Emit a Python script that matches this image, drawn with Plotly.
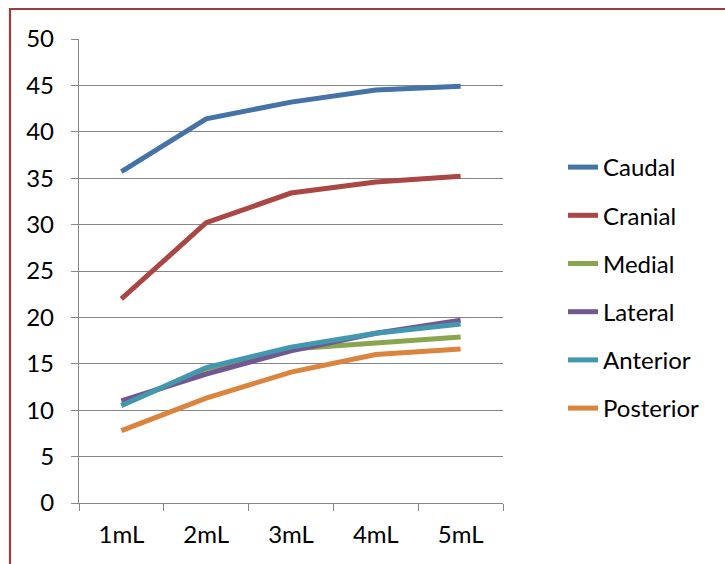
import plotly.graph_objects as go

categories = ["1mL", "2mL", "3mL", "4mL", "5mL"]
caudal = [35.7, 41.4, 43.2, 44.5, 44.9]
cranial = [22.0, 30.2, 33.4, 34.6, 35.2]
medial = [10.5, 14.5, 16.6, 17.3, 17.9]
lateral = [11.0, 13.9, 16.4, 18.3, 19.7]
anterior = [10.5, 14.6, 16.8, 18.3, 19.3]
posterior = [7.8, 11.3, 14.1, 16.0, 16.6]

series = [
    ("Caudal", caudal, "#4572A7"),
    ("Cranial", cranial, "#AA4643"),
    ("Medial", medial, "#89A54E"),
    ("Lateral", lateral, "#71588F"),
    ("Anterior", anterior, "#4198AF"),
    ("Posterior", posterior, "#DB843D"),
]

FONT = "Lato"
FS = 24
fig = go.Figure()
for name, vals, col in series:
    fig.add_trace(go.Scatter(
        x=categories, y=vals, name=name, mode="lines",
        line=dict(color=col, width=5), legendgroup=name,
    ))

L, R, T, B = 79, 222, 39, 61
W, H = 725, 564
pw, ph = W - L - R, H - T - B

def px_x(x):
    return (x - L) / pw

def px_y(y):
    return (H - B - y) / ph

fig.update_layout(
    width=W, height=H,
    margin=dict(l=L, r=R, t=T, b=B),
    paper_bgcolor="white", plot_bgcolor="white",
    font=dict(family=FONT, size=FS, color="black"),
    showlegend=True,
    legend=dict(
        x=px_x(563), xanchor="left",
        y=px_y(288), yanchor="middle",
        font=dict(family=FONT, size=FS, color="black"),
        tracegroupgap=14,
        bgcolor="rgba(0,0,0,0)",
    ),
    xaxis=dict(
        type="category", range=[-0.5, 4.5], showgrid=False, showline=True,
        linecolor="#868686", linewidth=1.3,
        ticks="outside", tickson="boundaries", ticklen=7,
        tickcolor="#868686", tickwidth=1.3,
        ticklabelstandoff=10,
        tickfont=dict(family=FONT, size=FS),
    ),
    yaxis=dict(
        range=[0, 50], dtick=5, showgrid=True,
        gridcolor="#868686", gridwidth=1.3,
        showline=True, linecolor="#868686", linewidth=1.3,
        ticks="outside", ticklen=7, tickcolor="#868686", tickwidth=1.3,
        ticklabelstandoff=12, zeroline=False,
        tickfont=dict(family=FONT, size=FS),
    ),
    shapes=[dict(
        type="path", xref="paper", yref="paper",
        path=f"M {px_x(10)} {px_y(600)} L {px_x(10)} {px_y(9)} L {px_x(760)} {px_y(9)}",
        line=dict(color="#9E3A3A", width=2.2),
    )],
)

fig.write_html("out.html")
